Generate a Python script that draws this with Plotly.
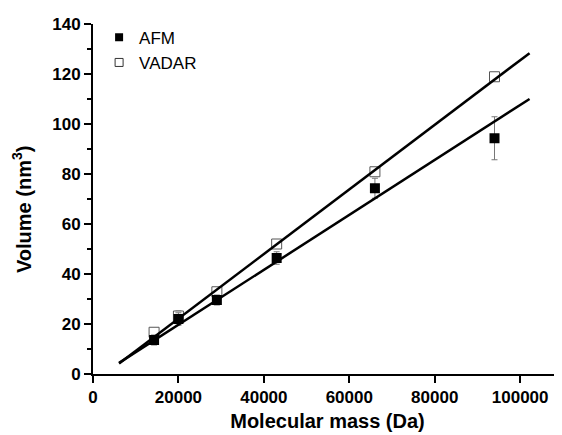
import plotly.graph_objects as go
import numpy as np

# Data
mass = [14300, 20000, 29000, 43000, 66000, 94000]
afm_volume = [13.6, 22.0, 29.6, 46.4, 74.3, 94.3]
afm_err = [2.0, 2.5, 2.0, 2.5, 4.0, 8.6]
vadar_volume = [16.7, 23.2, 32.9, 52.0, 80.9, 118.9]
vadar_err = [0.0, 2.0, 0.0, 0.0, 0.0, 0.0]

# Linear fit parameters (slope, intercept) and fit range
afm_fit = (0.0010985, -2.27)
vadar_fit = (0.001292, -3.7)
fit_range = [6100, 102200]

x_ticks = [0, 20000, 40000, 60000, 80000, 100000]
y_ticks = [0, 20, 40, 60, 80, 100, 120, 140]

FONT = "Liberation Sans, Arial, Helvetica, sans-serif"

fig = go.Figure()

fig.add_trace(go.Scatter(
    x=mass, y=vadar_volume, mode="markers", showlegend=False,
    marker=dict(symbol="square", size=10, color="white",
                line=dict(color="#555555", width=1)),
    error_y=dict(type="data", array=vadar_err, color="#777777", thickness=1, width=3),
))
fig.add_trace(go.Scatter(
    x=mass, y=afm_volume, mode="markers", showlegend=False,
    marker=dict(symbol="square", size=10, color="black",
                line=dict(color="black", width=0)),
    error_y=dict(type="data", array=afm_err, color="#777777", thickness=1, width=3),
))

xf = np.array(fit_range, dtype=float)
for slope, icpt in (afm_fit, vadar_fit):
    fig.add_trace(go.Scatter(
        x=xf, y=slope * xf + icpt, mode="lines", showlegend=False,
        line=dict(color="black", width=2.5),
    ))

# legend-only traces
fig.add_trace(go.Scatter(
    x=[None], y=[None], mode="markers", name="AFM", legendgroup="a",
    marker=dict(symbol="square", size=8, color="black", line=dict(width=0)),
))
fig.add_trace(go.Scatter(
    x=[None], y=[None], mode="markers", name="VADAR", legendgroup="b",
    marker=dict(symbol="square", size=8, color="white",
                line=dict(color="#333333", width=1)),
))

fig.update_layout(
    width=554, height=427,
    margin=dict(l=85, r=0, t=16, b=61),
    paper_bgcolor="white", plot_bgcolor="white",
    font=dict(family=FONT, color="black"),
    showlegend=True,
    legend=dict(x=0.013, y=1.012, xanchor="left", yanchor="top",
                font=dict(family=FONT, size=17, color="black"),
                bgcolor="rgba(0,0,0,0)", tracegroupgap=0,
                itemwidth=30),
    xaxis=dict(
        range=[0, 109800], tickvals=x_ticks, ticktext=[str(v) for v in x_ticks],
        showgrid=False, zeroline=False, showline=True, linecolor="black", linewidth=2,
        ticks="outside", ticklen=7, tickwidth=2, tickcolor="black",
        tickfont=dict(family=FONT, size=17, weight="bold"),
        title=dict(text="Molecular mass (Da)", font=dict(family=FONT, size=20, weight="bold"),
                   standoff=8),
    ),
    yaxis=dict(
        range=[0, 140], tickvals=y_ticks,
        showgrid=False, zeroline=False, showline=True, linecolor="black", linewidth=2,
        ticks="outside", ticklen=7, tickwidth=2, tickcolor="black",
        tickfont=dict(family=FONT, size=17, weight="bold"),
        minor=dict(dtick=10, ticks="outside", ticklen=4, tickwidth=2, tickcolor="black"),
    ),
    annotations=[dict(
        text="Volume (nm<sup>3</sup>)", textangle=-90, xref="paper", yref="paper",
        x=-0.151, y=0.469, xanchor="center", yanchor="middle", showarrow=False,
        font=dict(family=FONT, size=20, weight="bold", color="black"),
    )],
)

fig.write_html("out.html")
